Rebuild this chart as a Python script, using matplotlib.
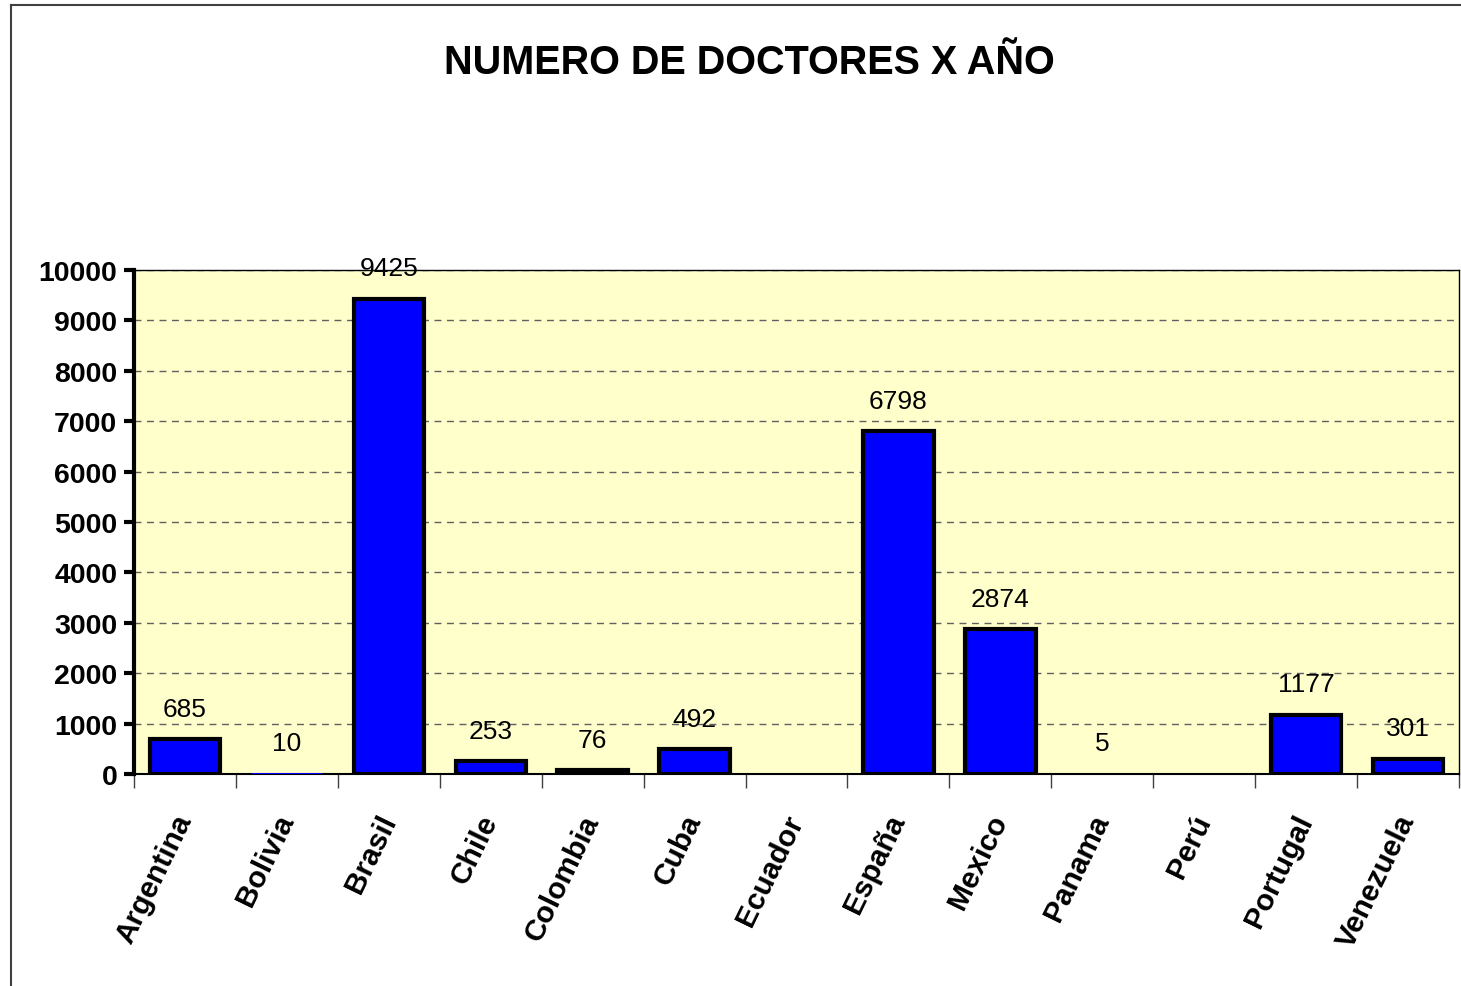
import numpy as np
import matplotlib
matplotlib.use("Agg")
import matplotlib.pyplot as plt
from matplotlib.lines import Line2D

plt.rcParams['font.family'] = ['Liberation Sans', 'DejaVu Sans']

# datos del grafico (Ecuador y Perú sin dato)
paises = ["Argentina", "Bolivia", "Brasil", "Chile", "Colombia", "Cuba", "Ecuador",
          "España", "Mexico", "Panama", "Perú", "Portugal", "Venezuela"]
doctores = [685, 10, 9425, 253, 76, 492, np.nan, 6798, 2874, 5, np.nan, 1177, 301]
yticks = [0, 1000, 2000, 3000, 4000, 5000, 6000, 7000, 8000, 9000, 10000]
titulo = "NUMERO DE DOCTORES X AÑO"

fig = plt.figure(figsize=(14.61, 9.87), dpi=100)
ax = fig.add_axes([134/1461, 1 - 775/987, (1459-134)/1461, (775-271)/987])
ax.set_facecolor("#FFFFCC")

x = np.arange(len(paises))
for i, v in enumerate(doctores):
    if np.isnan(v):
        continue
    # barras casi nulas: el borde queda tapado por el eje
    lw = 3 if v > 50 else 0
    ax.bar(x[i], v, width=0.69, color="#0000FF", edgecolor="black", linewidth=lw, zorder=3)
    ax.annotate(str(int(v)), (x[i], v), xytext=(0, 17), textcoords="offset points",
                ha="center", va="baseline", fontsize=19, zorder=4)

ax.set_xlim(-0.5, len(paises) - 0.5)
ax.set_ylim(0, 10000)
ax.set_yticks(yticks)
ax.set_yticklabels([str(t) for t in yticks], fontsize=20.5, fontweight="bold")
ax.yaxis.grid(True, linestyle=(0, (5, 4)), color="#606060", linewidth=1, zorder=1)

ax.set_xticks(x)
ax.set_xticklabels(paises, rotation=64, ha="right", va="center", rotation_mode="anchor",
                   fontsize=21.5, fontweight="bold")
ax.tick_params(axis="x", which="major", length=0, pad=30)
ax.set_xticks(np.arange(len(paises) + 1) - 0.5, minor=True)
ax.tick_params(axis="x", which="minor", length=10, width=1, color="#404040", direction="out")
ax.tick_params(axis="y", length=7, width=3, direction="out", pad=5)

ax.spines["left"].set_linewidth(3)
ax.spines["bottom"].set_linewidth(1.5)
ax.spines["top"].set_linewidth(1)
ax.spines["right"].set_linewidth(1)

fig.text(749/1461, 1 - 63/987, titulo, ha="center", va="center", fontsize=28.5, fontweight="bold")

# marco del grafico
fig.add_artist(Line2D([11/1461, 1.01], [1 - 6/987, 1 - 6/987], color="#404040", linewidth=1.5,
                      transform=fig.transFigure))
fig.add_artist(Line2D([11/1461, 11/1461], [1 - 6/987, -0.01], color="#404040", linewidth=1.5,
                      transform=fig.transFigure))

fig.savefig("out.png", dpi=100)
